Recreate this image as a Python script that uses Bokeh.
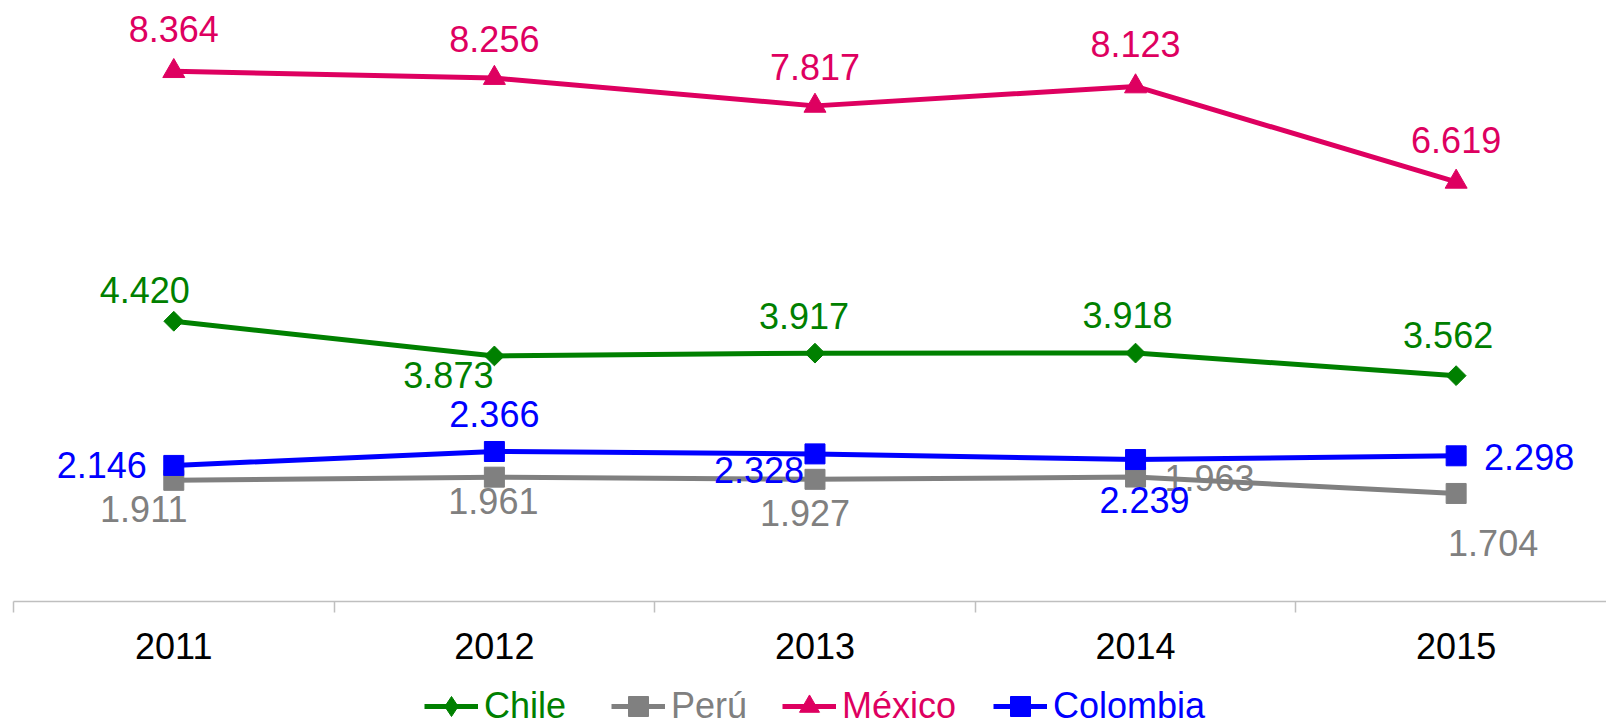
import math
from bokeh.plotting import figure
from bokeh.layouts import column
from bokeh.models import Range1d, FixedTicker, Legend, LegendItem, ColumnDataSource
from bokeh.core.properties import value
from bokeh.embed import file_html
from bokeh.resources import INLINE

# ---- data ----
years = ["2011", "2012", "2013", "2014", "2015"]
chile = [4.420, 3.873, 3.917, 3.918, 3.562]
peru = [1.911, 1.961, 1.927, 1.963, 1.704]
mexico = [8.364, 8.256, 7.817, 8.123, 6.619]
colombia = [2.146, 2.366, 2.328, 2.239, 2.298]

# ---- styles (label offsets in px, legend positions) ----
chile_off = [(-29, -31), (-46, 19), (-11, -37), (-8, -38), (-8, -41)]
peru_off = [(-30, 29), (-1, 24), (-10, 34), (74, 1), (37, 50)]
mexico_off = [(0, -42), (0, -39), (0, -39), (0, -42), (0, -42)]
colombia_off = [(-72, 0), (0, -37), (-56, 16), (9, 40), (73, 1)]
legend_x = [411, 598, 769, 980]

FONT = "Liberation Sans"
FS = "36px"
MAIN_H = 670
LEG_H = 727 - MAIN_H

p = figure(width=1606, height=MAIN_H, output_backend="svg", toolbar_location=None,
           x_range=Range1d(-0.5, 4.469), y_range=Range1d(0, 9.479),
           y_axis_location=None, min_border_left=13, min_border_right=0,
           min_border_top=0, min_border_bottom=MAIN_H - 601)
p.xgrid.visible = False
p.ygrid.visible = False
p.outline_line_color = None

xs = list(range(len(years)))

series = [
    ("Chile", chile, "#008000", "square", 14, math.pi / 4, chile_off, "diamond"),
    ("Perú", peru, "#808080", "square", 20, 0, peru_off, "square"),
    ("México", mexico, "#DE0060", "triangle", 22, 0, mexico_off, "triangle"),
    ("Colombia", colombia, "#0000FF", "square", 20, 0, colombia_off, "square"),
]

for name, vals, col, mk, sz, ang, offs, _lm in series:
    src = ColumnDataSource(dict(x=xs, y=vals))
    p.line("x", "y", source=src, line_color=col, line_width=5)
    p.scatter("x", "y", source=src, marker=mk, size=sz, angle=ang,
              fill_color=col, line_color=col)

for name, vals, col, mk, sz, ang, offs, _lm in series:
    src = ColumnDataSource(dict(
        x=xs, y=vals, t=[f"{v:.3f}" for v in vals],
        xo=[o[0] for o in offs], yo=[o[1] for o in offs]))
    p.text("x", "y", text="t", x_offset="xo", y_offset="yo", source=src,
           text_align="center", text_baseline="middle",
           text_font=value(FONT), text_font_size=FS, text_color=col)

ax = p.xaxis[0]
ax.ticker = FixedTicker(ticks=xs, minor_ticks=[-0.5, 0.5, 1.5, 2.5, 3.5, 4.5])
ax.major_label_overrides = {i: y for i, y in enumerate(years)}
ax.major_tick_line_color = None
ax.major_tick_out = 0
ax.major_tick_in = 0
ax.minor_tick_out = 11
ax.minor_tick_in = 0
ax.minor_tick_line_color = "#BFBFBF"
ax.minor_tick_line_width = 1.5
ax.axis_line_color = "#BFBFBF"
ax.axis_line_width = 1.5
ax.major_label_standoff = 20
ax.major_label_text_font = FONT
ax.major_label_text_font_size = FS
ax.major_label_text_color = "#000000"

# ---- legend strip ----
q = figure(width=1606, height=LEG_H, output_backend="svg", toolbar_location=None,
           x_range=Range1d(0, 1), y_range=Range1d(0, 1),
           x_axis_location=None, y_axis_location=None,
           min_border_left=0, min_border_right=0, min_border_top=0, min_border_bottom=0)
q.xgrid.visible = False
q.ygrid.visible = False
q.outline_line_color = None

nan = float("nan")
for (name, vals, col, mk, sz, ang, offs, lm), lx in zip(series, legend_x):
    lr = q.line(x=[nan, nan], y=[nan, nan], line_color=col, line_width=5)
    sr = q.scatter(x=[nan], y=[nan], marker=lm, size=20, fill_color=col, line_color=col)
    lg = Legend(items=[LegendItem(label=name, renderers=[lr, sr])],
                orientation="horizontal", location=(lx, -4),
                glyph_width=54, glyph_height=50, label_standoff=6, spacing=0,
                padding=0, margin=0, border_line_color=None,
                background_fill_alpha=0,
                label_text_font=FONT, label_text_font_size=FS,
                label_text_color=col)
    q.add_layout(lg, "center")

layout = column(p, q, spacing=0)
open("out.html", "w").write(file_html(layout, INLINE))
